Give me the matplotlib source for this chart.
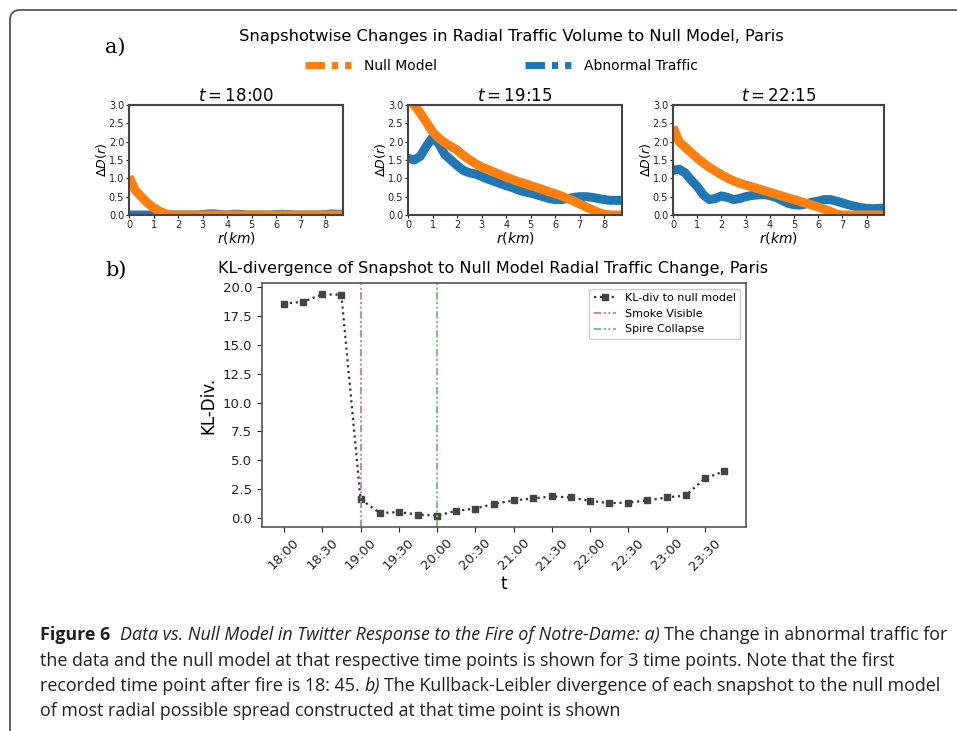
import numpy as np
import pandas as pd
import matplotlib
matplotlib.use("Agg")
import matplotlib.pyplot as plt
from matplotlib.lines import Line2D
from matplotlib.patches import FancyBboxPatch
from matplotlib.transforms import IdentityTransform
from matplotlib import font_manager

plt.rcParams["font.family"] = ["DejaVu Sans"]
plt.rcParams["mathtext.fontset"] = "dejavusans"

# ---------------- data: panel a) radial change ----------------
r_km = [0, 0.25, 0.5, 0.75, 1.0, 1.25, 1.5, 1.75, 2.0, 2.25, 2.5, 2.75,
        3.0, 3.25, 3.5, 3.75, 4.0, 4.25, 4.5, 4.75, 5.0, 5.25, 5.5, 5.75,
        6.0, 6.25, 6.5, 6.75, 7.0, 7.25, 7.5, 7.75, 8.0, 8.25, 8.5, 8.75]

snap_titles = ["18:00", "19:15", "22:15"]

null_1800 = [1.05, 0.68, 0.5, 0.33, 0.2, 0.1, 0.03, 0.0, 0.0, 0.0, 0.0, 0.0,
             0.0, 0.0, 0.0, 0.0, 0.0, 0.0, 0.0, 0.0, 0.0, 0.0, 0.0, 0.0,
             0.0, 0.0, 0.0, 0.0, 0.0, 0.0, 0.0, 0.0, 0.0, 0.0, 0.0, 0.0]
abn_1800 = [0.0, 0.0, 0.0, 0.0, 0.0, 0.0, 0.0, 0.0, 0.0, 0.0, 0.0, 0.0,
            0.01, 0.03, 0.03, 0.01, 0.0, 0.02, 0.02, 0.0, 0.0, 0.0, 0.0, 0.0,
            0.01, 0.02, 0.01, 0.0, 0.0, 0.0, 0.0, 0.0, 0.01, 0.03, 0.02, 0.02]

null_1915 = [3.2, 3.0, 2.78, 2.53, 2.27, 2.1, 1.97, 1.87, 1.77, 1.63, 1.51, 1.4,
             1.31, 1.24, 1.17, 1.1, 1.03, 0.97, 0.91, 0.86, 0.8, 0.75, 0.69, 0.63,
             0.58, 0.52, 0.45, 0.38, 0.3, 0.22, 0.15, 0.07, 0.02, 0.0, 0.0, 0.0]
abn_1915 = [1.55, 1.5, 1.6, 1.88, 2.12, 1.95, 1.65, 1.5, 1.35, 1.22, 1.15, 1.12,
            1.05, 0.98, 0.92, 0.86, 0.8, 0.75, 0.68, 0.63, 0.6, 0.55, 0.5, 0.45,
            0.42, 0.42, 0.45, 0.48, 0.5, 0.5, 0.48, 0.45, 0.42, 0.4, 0.4, 0.4]

null_2215 = [2.4, 2.0, 1.85, 1.7, 1.55, 1.42, 1.3, 1.2, 1.1, 1.01, 0.93, 0.87,
             0.82, 0.77, 0.72, 0.67, 0.62, 0.57, 0.52, 0.47, 0.42, 0.37, 0.32, 0.27,
             0.22, 0.16, 0.1, 0.03, 0.0, 0.0, 0.0, 0.0, 0.0, 0.0, 0.0, 0.0]
abn_2215 = [1.22, 1.25, 1.15, 0.95, 0.78, 0.55, 0.42, 0.45, 0.52, 0.48, 0.42, 0.45,
            0.5, 0.53, 0.55, 0.56, 0.53, 0.48, 0.4, 0.32, 0.28, 0.27, 0.3, 0.35,
            0.38, 0.42, 0.42, 0.38, 0.33, 0.28, 0.24, 0.2, 0.18, 0.17, 0.18, 0.19]

null_series = [null_1800, null_1915, null_2215]
abn_series = [abn_1800, abn_1915, abn_2215]

# ---------------- data: panel b) KL divergence ----------------
kl_times = ["18:00", "18:15", "18:30", "18:45", "19:00", "19:15", "19:30", "19:45",
            "20:00", "20:15", "20:30", "20:45", "21:00", "21:15", "21:30", "21:45",
            "22:00", "22:15", "22:30", "22:45", "23:00", "23:15", "23:30", "23:45"]
kl_values = [18.6, 18.75, 19.4, 19.37, 1.6, 0.41, 0.47, 0.26,
             0.17, 0.58, 0.79, 1.2, 1.49, 1.66, 1.84, 1.75,
             1.46, 1.25, 1.31, 1.49, 1.75, 1.92, 3.41, 4.02]
event_times = ["19:00", "20:00"]
event_names = ["Smoke Visible", "Spire Collapse"]
event_colors = ["#c585c9", "#7fc47f"]

ORANGE = "#ff7f0e"
BLUE = "#1f77b4"

W, H = 957, 731
fig = plt.figure(figsize=(W / 100, H / 100), dpi=100)

# ---- outer rounded frame ----
frame = FancyBboxPatch((10, -30), 1000, H - 10 + 30,
                       boxstyle="round,pad=0,rounding_size=10",
                       transform=IdentityTransform(), fill=False,
                       edgecolor="#555555", linewidth=1.3, clip_on=False)
fig.patches.append(frame)

# ---------------- a) ----------------
fig.text(105 / W, 1 - 47 / H, "a)", fontsize=15, family="DejaVu Serif", va="center")
fig.text(511.5 / W, 1 - 36 / H,
         "Snapshotwise Changes in Radial Traffic Volume to Null Model, Paris",
         fontsize=11.7, ha="center", va="center")

lefts = [129, 408, 673]
widths = [214, 214, 211]
for i in range(3):
    ax = fig.add_axes([lefts[i] / W, 1 - 215 / H, widths[i] / W, 110 / H])
    ax.plot(r_km, abn_series[i], color=BLUE, lw=6.5, solid_capstyle="butt")
    ax.plot(r_km, null_series[i], color=ORANGE, lw=6.5, solid_capstyle="butt")
    ax.set_xlim(0, 8.72)
    ax.set_ylim(0, 3)
    ax.set_xticks(range(9))
    ax.set_yticks([0, 0.5, 1.0, 1.5, 2.0, 2.5, 3.0])
    ax.tick_params(labelsize=7, length=2.5, pad=1, colors="#222222")
    ax.set_xlabel("$r(km)$", fontsize=10, labelpad=0)
    ax.set_ylabel(r"$\Delta D(r)$", fontsize=9, labelpad=0)
    ax.set_title("$t = $" + snap_titles[i], fontsize=12, pad=2)
    for sp in ax.spines.values():
        sp.set_linewidth(1.5)
        sp.set_color("#444444")

leg_handles = [Line2D([], [], color=ORANGE, lw=5, ls=(0, (2.8, 1, 0.9, 1, 0.9, 1))),
               Line2D([], [], color=BLUE, lw=5, ls=(0, (2.8, 1, 0.9, 1, 0.9, 1)))]
fig.legend(leg_handles, ["Null Model", "Abnormal Traffic"], loc="center",
           bbox_to_anchor=(501.5 / W, 1 - 66 / H), ncol=2, frameon=False,
           fontsize=10, handlelength=3.7, handletextpad=0.55, columnspacing=6.3)

# ---------------- b) ----------------
fig.text(105 / W, 1 - 270 / H, "b)", fontsize=15, family="DejaVu Serif", va="center")
fig.text(493 / W, 1 - 268 / H,
         "KL-divergence of Snapshot to Null Model Radial Traffic Change, Paris",
         fontsize=11.5, ha="center", va="center")

t = pd.to_datetime(["2019-04-15 " + s for s in kl_times])
ev = pd.to_datetime(["2019-04-15 " + s for s in event_times])

axb = fig.add_axes([262 / W, 1 - 526.7 / H, 484 / W, 243.4 / H])
axb.plot(t, kl_values, color="#333333", ls=":", lw=1.6, marker="s",
         markersize=4.5, markerfacecolor="#444444", markeredgecolor="#444444",
         label="KL-div to null model")
for x, name, c in zip(ev, event_names, event_colors):
    axb.axvline(x, color=c, ls=(0, (3.5, 1.2, 1, 1.2, 1, 1.2)), lw=1.5, label=name)
axb.set_xticks(t[::2])
axb.set_xticklabels(kl_times[::2], rotation=45)
axb.set_yticks([0, 2.5, 5, 7.5, 10, 12.5, 15, 17.5, 20])
axb.set_yticklabels(["0.0", "2.5", "5.0", "7.5", "10.0", "12.5", "15.0", "17.5", "20.0"])
axb.tick_params(labelsize=9.5, colors="#222222")
axb.set_xlabel("t", fontsize=12, labelpad=2)
axb.set_ylabel("KL-Div.", fontsize=12)
for sp in axb.spines.values():
    sp.set_linewidth(1.2)
    sp.set_color("#555555")
axb.legend(loc="upper right", fontsize=8, framealpha=1, edgecolor="#cccccc")

# ---------------- caption ----------------
names = {f.name for f in font_manager.fontManager.ttflist}
cap_font = "Liberation Sans Narrow" if "Liberation Sans Narrow" in names else "Open Sans"
cap_size = 15.5 if cap_font == "Liberation Sans Narrow" else 12.85

renderer = fig.canvas.get_renderer()
space_w = None


def caption_line(y_px, runs):
    x = 40
    for txt, style, weight, gap in runs:
        x += gap * space_w
        tt = fig.text(x / W, 1 - y_px / H, txt, fontsize=cap_size, family=cap_font,
                      style=style, weight=weight, va="baseline", color="#231f20")
        x += tt.get_window_extent(renderer).width


probe = fig.text(0, 0, "n n", fontsize=cap_size, family=cap_font)
probe2 = fig.text(0, 0, "nn", fontsize=cap_size, family=cap_font)
space_w = probe.get_window_extent(renderer).width - probe2.get_window_extent(renderer).width
probe.remove()
probe2.remove()

caption_line(640, [("Figure 6", "normal", "bold", 0),
                   ("Data vs. Null Model in Twitter Response to the Fire of Notre-Dame: a)",
                    "italic", "normal", 2),
                   ("The change in abnormal traffic for", "normal", "normal", 1)])
caption_line(665.5, [("the data and the null model at that respective time points is shown "
                      "for 3 time points. Note that the first", "normal", "normal", 0)])
caption_line(691, [("recorded time point after fire is 18: 45.", "normal", "normal", 0),
                   ("b)", "italic", "normal", 1),
                   ("The Kullback-Leibler divergence of each snapshot to the null model",
                    "normal", "normal", 1)])
caption_line(716.5, [("of most radial possible spread constructed at that time point is shown",
                      "normal", "normal", 0)])

fig.savefig("out.png", dpi=100)
